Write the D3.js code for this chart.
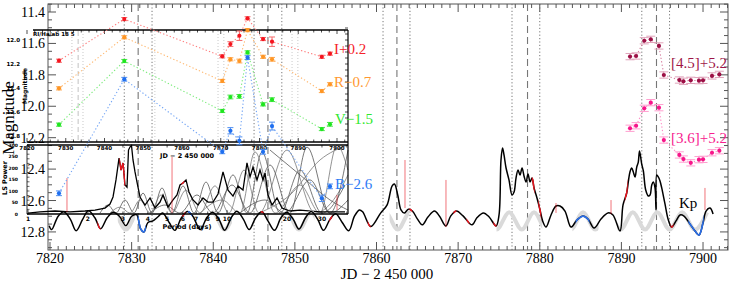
<!DOCTYPE html>
<html lang="en">
<head>
<meta charset="UTF-8">
<title>Kp light curve with optical and IR photometry</title>
<script src="https://cdn.jsdelivr.net/npm/d3@7"></script>
<style>
  body { margin: 0; background: #fff; }
  svg text { font-family: "Liberation Serif", "DejaVu Serif", serif; }
  svg text.tiny { font-family: "DejaVu Sans", sans-serif; font-weight: bold; }
</style>
</head>
<body>
<div id="chart"></div>
<script>
// ---------- data ----------
const xTicks = [7820, 7830, 7840, 7850, 7860, 7870, 7880, 7890, 7900];
const yTicks = [11.4, 11.6, 11.8, 12.0, 12.2, 12.4, 12.6, 12.8];

// optical photometry (offsets already applied)
const optJD = [7821.1, 7829.1, 7841.1, 7842.1, 7843.2, 7844.2, 7846.1, 7847.2, 7853.3, 7854.3];
const magI = [11.710, 11.445, 11.682, 11.604, 11.551, 11.440, 11.572, 11.589, 11.685, 11.665];
const errI = [0.010, 0.010, 0.010, 0.015, 0.030, 0.010, 0.010, 0.030, 0.010, 0.010];
const magR = [11.886, 11.561, 11.839, 11.701, 11.712, 11.515, 11.685, 11.701, 11.903, 11.860];
const errR = [0.010, 0.010, 0.010, 0.010, 0.012, 0.010, 0.010, 0.012, 0.010, 0.010];
const magV = [12.117, 11.712, 12.030, 11.941, 11.937, 11.657, 11.988, 11.958, 12.145, 12.115];
const errV = [0.010, 0.010, 0.010, 0.012, 0.012, 0.010, 0.010, 0.012, 0.010, 0.012];
const magB = [12.554, 11.828, 12.290, 12.156, 12.220, 11.690, 12.290, 12.126, 12.586, 12.510];
const errB = [0.015, 0.012, 0.012, 0.020, 0.025, 0.012, 0.015, 0.025, 0.020, 0.015];

// Spitzer photometry
const irJD  = [7891.06, 7891.8, 7892.8, 7893.6, 7894.6, 7895.2, 7897.1, 7897.6, 7898.5, 7899.5, 7900.0, 7901.1, 7902.0];
const mag45 = [11.684, 11.680, 11.583, 11.574, 11.616, 11.801, 11.833, 11.841, 11.835, 11.837, 11.835, 11.807, 11.797];
const mag36 = [12.140, 12.124, 12.013, 11.977, 12.009, 12.215, 12.310, 12.336, 12.360, 12.340, 12.338, 12.296, 12.283];
const errIR = [0.020, 0.020, 0.020, 0.020, 0.020, 0.020, 0.020, 0.020, 0.020, 0.020, 0.020, 0.020, 0.020];

// Kepler K2 light curve (JD, mag)
const kpCurve = [
  [7819.9,12.760],[7820.2,12.785],[7821.0,12.700],[7821.7,12.672],[7822.5,12.720],[7823.2,12.792],
  [7824.0,12.720],[7824.7,12.665],[7825.5,12.710],[7826.2,12.780],[7827.0,12.710],[7827.75,12.675],
  [7828.5,12.700],[7829.3,12.760],[7830.0,12.700],[7830.6,12.690],[7831.1,12.780],[7831.5,12.800],
  [7832.0,12.740],[7832.6,12.730],[7833.3,12.700],[7833.8,12.680],[7834.6,12.740],[7835.3,12.790],
  [7836.1,12.710],[7836.85,12.670],[7837.5,12.700],[7838.4,12.785],[7839.2,12.710],[7839.9,12.675],
  [7840.7,12.720],[7841.4,12.790],[7842.2,12.710],[7842.9,12.668],[7843.7,12.720],[7844.4,12.785],
  [7845.2,12.710],[7845.95,12.672],[7846.7,12.730],[7847.5,12.790],[7848.3,12.710],[7849.0,12.675],
  [7849.8,12.720],[7850.5,12.782],[7851.3,12.710],[7852.0,12.670],[7852.8,12.720],[7853.5,12.790],
  [7854.3,12.720],[7855.0,12.685],[7855.8,12.740],[7856.6,12.793],[7857.3,12.700],[7857.9,12.660],
  [7858.3,12.672],[7859.3,12.766],[7860.5,12.680],[7861.3,12.628],[7861.9,12.508],[7862.2,12.495],
  [7862.6,12.565],[7863.0,12.660],[7863.4,12.680],[7863.9,12.655],[7864.4,12.667],[7865.0,12.717],
  [7865.6,12.755],[7866.3,12.705],[7867.1,12.667],[7867.7,12.698],[7868.5,12.762],[7869.1,12.698],
  [7869.8,12.667],[7870.6,12.698],[7871.7,12.755],[7872.3,12.710],[7873.1,12.679],[7873.8,12.705],
  [7874.65,12.762],[7875.01,12.692],[7875.25,12.342],[7875.44,12.266],[7875.62,12.310],[7875.87,12.393],
  [7876.23,12.469],[7876.60,12.565],[7876.85,12.546],[7877.09,12.457],[7877.34,12.406],[7877.58,12.438],
  [7877.83,12.393],[7878.07,12.444],[7878.32,12.482],[7878.56,12.431],[7878.81,12.482],[7879.05,12.457],
  [7879.30,12.520],[7879.66,12.584],[7880.03,12.660],[7880.40,12.737],[7880.77,12.769],[7881.38,12.692],
  [7881.99,12.635],[7882.48,12.635],[7883.09,12.667],[7883.83,12.769],[7884.56,12.724],[7885.30,12.699],
  [7885.91,12.718],[7886.65,12.775],[7887.50,12.718],[7888.36,12.679],[7888.97,12.692],[7889.83,12.794],
  [7890.20,12.628],[7890.65,12.552],[7890.85,12.480],[7891.05,12.418],[7891.26,12.393],[7891.46,12.418],
  [7891.67,12.450],[7891.88,12.387],[7892.07,12.355],[7892.22,12.285],[7892.49,12.368],[7892.69,12.412],
  [7892.98,12.533],[7893.30,12.571],[7893.51,12.565],[7893.72,12.501],[7893.91,12.482],[7894.12,12.520],
  [7894.24,12.660],[7894.33,12.438],[7894.52,12.450],[7894.73,12.476],[7894.94,12.520],[7895.34,12.622],
  [7895.75,12.724],[7896.16,12.769],[7896.69,12.730],[7897.18,12.692],[7897.67,12.699],[7898.41,12.750],
  [7899.02,12.794],[7899.51,12.820],[7900.00,12.743],[7900.37,12.667],[7900.86,12.648],[7901.23,12.686]
];
const kpBlueRanges = [[7830.75, 7831.75], [7836.9, 7837.4], [7884.4, 7886.1], [7898.2, 7900.1]];
const kpRedBits = [7826.0, 7836.4, 7846.0, 7854.4, 7859.1, 7864.2, 7869.6, 7871.2, 7874.5, 7879.2, 7880.0, 7890.6, 7896.2];
// flagged points: [JD, top mag, bottom mag]
const kpSpikes = [[7822.08,12.457,12.673],[7834.95,12.323,12.679],[7855.16,12.565,12.660],[7863.49,12.342,12.648],
  [7868.51,12.469,12.769],[7881.99,12.616,12.679],[7888.73,12.597,12.686],[7900.24,12.520,12.660]];

// sinusoidal model: times of minima and maxima of brightness
const modelFaintJD  = [7820.2,7823.2,7826.2,7829.3,7832.3,7835.3,7838.4,7841.4,7844.4,7847.5,7850.5,7853.5,7856.5,
  7859.6,7862.6,7865.6,7868.7,7871.7,7874.7,7877.8,7880.8,7883.8,7886.8,7889.9,7892.9,7895.9,7899.0];
const modelBrightJD = [7821.7,7824.7,7827.75,7830.8,7833.8,7836.85,7839.9,7842.9,7845.95,7849.0,7852.0,7855.0,
  7858.05,7861.1,7864.1,7867.15,7870.2,7873.2,7876.25,7879.3,7882.3,7885.3,7888.35,7891.4,7894.4,7897.45,7900.5];
const modelFaintMag = 12.785, modelBrightMag = 12.675;
const modelShown = [[7828.3,7830.4],[7839.8,7842.3],[7849.2,7852.4],[7861.6,7864.0],[7874.7,7880.3],[7884.0,7887.2],[7889.5,7901.4]];

// reference epochs: dashed and dotted lines
const dashedJD = [7830.8, 7846.7, 7862.5, 7878.5, 7894.3];
const dottedJD = [7829.1, 7832.5, 7845.0, 7848.4, 7860.8, 7864.1, 7876.6, 7880.0, 7892.5, 7895.9];

// inset: light curve panel
const insetXTicks = [7820, 7830, 7840, 7850, 7860, 7870, 7880, 7890, 7900];
const insetYTicks = [12.0, 12.2, 12.4, 12.6, 12.8];
const insetDottedJD = [7831.6, 7834.45, 7853.0, 7869.3, 7870.8, 7888.4, 7889.9];
const insetDashedJD = [7833.2];

// inset: Lomb-Scargle periodogram (period in days, power)
const periodTicks = [1, 2, 3, 4, 5, 6, 7, 8, 9, 10, 20, 30];
const powerTicks = [0, 20, 40, 60, 80, 100, 120, 140, 160, 180, 200, 220, 240, 260, 280, 300];
const powerLabels = [0, 50, 100, 150, 200, 250, 300];
const lsMain = [[1.0,4],[1.149,9],[1.367,13],[1.626,9],[1.934,13],[2.171,17],[2.437,26],[2.583,43],[2.674,74],
  [2.768,148],[2.867,243],[2.934,191],[3.002,222],[3.072,126],[3.144,117],[3.199,278],[3.254,291],[3.312,298],
  [3.370,235],[3.449,183],[3.529,139],[3.654,74],[3.872,39],[4.104,70],[4.347,26],[4.606,52],[4.769,83],[5.052,30],
  [5.354,61],[5.607,83],[5.805,126],[6.010,135],[6.223,148],[6.442,96],[6.748,61],[7.150,39],[7.576,70],[8.025,52],
  [8.503,52],[9.012,87],[9.548,183],[10.12,104],[10.72,78],[11.36,122],[12.03,104],[12.60,222],[13.05,161],
  [13.51,204],[14.15,148],[14.65,191],[15.17,148],[15.53,178],[16.07,83],[16.83,39],[17.84,70],[18.90,26],
  [20.73,13],[23.27,17],[29.34,9],[39.17,9]];
const lsRedPeriods = [[2.88, 3.08], [5.9, 6.1]];
const lsOthers = [
  [[2.300,4],[2.523,39],[2.768,4],[3.072,61],[3.409,4],[3.784,91],[4.200,4],[4.714,113],[5.291,4],[6.010,122],
   [6.827,4],[7.844,139],[9.012,4],[10.72,170],[12.60,4],[14.99,270],[18.47,4],[23.27,191],[30.02,4],[39.17,126]],
  [[2.583,4],[2.900,30],[3.254,4],[3.654,61],[4.104,4],[4.660,83],[5.291,4],[6.223,104],[7.317,4],[8.702,122],
   [10.23,4],[12.17,191],[14.48,4],[20.02,278],[27.69,4],[36.97,104],[40.55,170]],
  [[4.104,4],[4.881,39],[5.805,4],[7.068,83],[8.503,4],[10.60,126],[13.05,4],[16.45,213],[20.73,4],[25.23,291],
   [32.93,4],[40.55,61]],
  [[7.317,4],[9.438,61],[11.62,4],[13.83,270],[17.43,4],[23.27,126],[29.34,4],[35.71,298],[40.55,191]],
  [[11.62,4],[15.53,61],[19.56,4],[26.13,148],[32.93,4],[40.55,278]],
  [[14.48,4],[20.73,83],[29.34,235],[40.55,300]],
  [[16.45,278],[23.27,170],[32.93,61],[40.55,17]]
];

// ---------- drawing ----------
const W = 734, H = 284;
const svg = d3.select("#chart").append("svg").attr("width", W).attr("height", H);
const defs = svg.append("defs");

const x = d3.scaleLinear().domain([7819.755, 7903.06]).range([48, 728]);
const y = d3.scaleLinear().domain([11.349, 12.915]).range([4, 250]);
const xi = d3.scaleLinear().domain([7820, 7900]).range([27, 337]);
const yi = d3.scaleLinear().domain([12.0, 12.8]).range([40, 136]);
const xp = d3.scaleLog().domain([1, 40.55]).range([28, 348]);
const yp = d3.scaleLinear().domain([0, 300]).range([214, 145]);

function clipX(id, ranges, scale) {
  defs.append("clipPath").attr("id", id).selectAll("rect").data(ranges).join("rect")
    .attr("x", d => scale(d[0])).attr("width", d => scale(d[1]) - scale(d[0]))
    .attr("y", 0).attr("height", H);
}

// main frame + ticks
const frame = svg.append("g").attr("stroke", "#555").attr("stroke-width", 1);
frame.append("rect").attr("x", 48).attr("y", 4).attr("width", 680).attr("height", 246).attr("fill", "none");
const xMinor = d3.range(7820, 7904, 1);
const yMinor = d3.range(11.35, 12.92, 0.05);
frame.selectAll(".xt").data(xMinor).join("line")
  .attr("x1", d => x(d)).attr("x2", d => x(d))
  .attr("y1", 250).attr("y2", d => 250 - (xTicks.includes(d) ? 8 : 4));
frame.selectAll(".xtt").data(xMinor).join("line")
  .attr("x1", d => x(d)).attr("x2", d => x(d))
  .attr("y1", 4).attr("y2", d => 4 + (xTicks.includes(d) ? 8 : 4));
const isMajorY = d => yTicks.some(t => Math.abs(t - d) < 1e-6);
frame.selectAll(".yl").data(yMinor).join("line")
  .attr("y1", d => y(d)).attr("y2", d => y(d))
  .attr("x1", 48).attr("x2", d => 48 + (isMajorY(d) ? 8 : 4));
frame.selectAll(".yr").data(yMinor).join("line")
  .attr("y1", d => y(d)).attr("y2", d => y(d))
  .attr("x1", 728).attr("x2", d => 728 - (isMajorY(d) ? 8 : 4));

svg.selectAll(".xlab").data(xTicks).join("text")
  .attr("x", d => x(d)).attr("y", 263).attr("text-anchor", "middle")
  .attr("font-size", 14).text(d => d);
svg.selectAll(".ylab").data(yTicks).join("text")
  .attr("x", 45).attr("y", d => y(d) + 5).attr("text-anchor", "end")
  .attr("font-size", 14).text(d => d.toFixed(1));
svg.append("text").attr("x", 387).attr("y", 279).attr("text-anchor", "middle")
  .attr("font-size", 15).text("JD \u2212 2 450 000");
svg.append("text").attr("transform", "translate(14,118) rotate(-90)").attr("text-anchor", "middle")
  .attr("font-size", 17).text("Magnitude");

// epoch lines
svg.selectAll(".dot").data(dottedJD).join("line")
  .attr("x1", d => x(d)).attr("x2", d => x(d)).attr("y1", 4).attr("y2", 250)
  .attr("stroke", "#666").attr("stroke-width", 0.9).attr("stroke-dasharray", "1.2,2.2");
svg.selectAll(".dash").data(dashedJD).join("line")
  .attr("x1", d => x(d)).attr("x2", d => x(d)).attr("y1", 4).attr("y2", 250)
  .attr("stroke", "#777").attr("stroke-width", 1.1).attr("stroke-dasharray", "7,4");

// inset light-curve guide lines
svg.selectAll(".idot").data(insetDottedJD).join("line")
  .attr("x1", d => xi(d)).attr("x2", d => xi(d)).attr("y1", 31).attr("y2", 142)
  .attr("stroke", "#bbb").attr("stroke-width", 0.8).attr("stroke-dasharray", "1,2");
svg.selectAll(".idash").data(insetDashedJD).join("line")
  .attr("x1", d => xi(d)).attr("x2", d => xi(d)).attr("y1", 31).attr("y2", 142)
  .attr("stroke", "#bbb").attr("stroke-width", 0.9).attr("stroke-dasharray", "5,3");

// periodogram curves
const lsLine = d3.line().x(d => xp(d[0])).y(d => yp(d[1]));
svg.append("g").selectAll("path").data(lsOthers).join("path")
  .attr("d", d => lsLine.curve(d3.curveMonotoneX)(d))
  .attr("fill", "none").attr("stroke", (d, i) => i % 2 ? "#777" : "#555").attr("stroke-width", 0.8);
const lsPath = d3.line().x(d => xp(d[0])).y(d => yp(d[1])).curve(d3.curveLinear);
svg.append("path").datum(lsMain).attr("d", lsPath)
  .attr("fill", "none").attr("stroke", "#000").attr("stroke-width", 1.3);
clipX("lsred", lsRedPeriods, xp);
svg.append("path").datum(lsMain).attr("d", lsPath).attr("clip-path", "url(#lsred)")
  .attr("fill", "none").attr("stroke", "#e8141e").attr("stroke-width", 1.4);

// Kp light curve
const modelPts = modelFaintJD.map(t => [t, modelFaintMag])
  .concat(modelBrightJD.map(t => [t, modelBrightMag]))
  .sort((a, b) => a[0] - b[0]);
clipX("modelclip", modelShown, x);
svg.append("path").datum(modelPts)
  .attr("d", d3.line().x(d => x(d[0])).y(d => y(d[1])).curve(d3.curveMonotoneX))
  .attr("clip-path", "url(#modelclip)")
  .attr("fill", "none").attr("stroke", "#dadada").attr("stroke-width", 4);

const kpLine = d3.line().x(d => x(d[0])).y(d => y(d[1])).curve(d3.curveCatmullRom.alpha(0.5));
svg.append("path").datum(kpCurve).attr("d", kpLine)
  .attr("fill", "none").attr("stroke", "#000").attr("stroke-width", 1.5);
clipX("kpblue", kpBlueRanges, x);
svg.append("path").datum(kpCurve).attr("d", kpLine).attr("clip-path", "url(#kpblue)")
  .attr("fill", "none").attr("stroke", "#2a6ee8").attr("stroke-width", 1.7);
clipX("kpred", kpRedBits.map(t => [t - 0.18, t + 0.18]), x);
svg.append("path").datum(kpCurve).attr("d", kpLine).attr("clip-path", "url(#kpred)")
  .attr("fill", "none").attr("stroke", "#e8141e").attr("stroke-width", 1.6);
svg.selectAll(".spike").data(kpSpikes).join("line")
  .attr("x1", d => x(d[0])).attr("x2", d => x(d[0]))
  .attr("y1", d => y(d[1])).attr("y2", d => y(d[2]))
  .attr("stroke", "#e8141e").attr("stroke-width", 0.7).attr("stroke-opacity", 0.85);

// inset frames and axes
const ins = svg.append("g").attr("stroke", "#000");
ins.append("line").attr("x1", 33).attr("x2", 348).attr("y1", 30).attr("y2", 30).attr("stroke-width", 1.3);
ins.append("line").attr("x1", 348).attr("x2", 348).attr("y1", 30).attr("y2", 214).attr("stroke-width", 1.2);
ins.append("line").attr("x1", 27).attr("x2", 348).attr("y1", 142).attr("y2", 142).attr("stroke-width", 1.3);
ins.append("line").attr("x1", 27).attr("x2", 348).attr("y1", 145).attr("y2", 145).attr("stroke-width", 1.3);
ins.append("line").attr("x1", 27).attr("x2", 348).attr("y1", 214).attr("y2", 214).attr("stroke-width", 1.6);
ins.append("line").attr("x1", 27).attr("x2", 27).attr("y1", 145).attr("y2", 214).attr("stroke-width", 0.8);
const insMinor = d3.range(7820, 7903, 2);
ins.selectAll(".itt").data(insMinor).join("line").attr("stroke-width", 0.7)
  .attr("x1", d => xi(d)).attr("x2", d => xi(d)).attr("y1", 30).attr("y2", d => 30 + (d % 10 === 0 ? 4 : 2.5));
ins.selectAll(".itb").data(insMinor).join("line").attr("stroke-width", 0.7)
  .attr("x1", d => xi(d)).attr("x2", d => xi(d)).attr("y1", 142).attr("y2", d => 142 - (d % 10 === 0 ? 4 : 2.5));
ins.selectAll(".iyr").data(d3.range(11.9, 12.85, 0.05)).join("line").attr("stroke-width", 0.7)
  .attr("y1", d => yi(d)).attr("y2", d => yi(d)).attr("x1", 348).attr("x2", 345);
const pMinor = [1, 2, 3, 4, 5, 6, 7, 8, 9, 10, 20, 30, 40];
ins.selectAll(".ptb").data(pMinor).join("line").attr("stroke-width", 0.7)
  .attr("x1", d => xp(d)).attr("x2", d => xp(d)).attr("y1", 214).attr("y2", d => 214 - (d === 1 || d === 10 ? 4 : 2.5));
ins.selectAll(".ptt").data(pMinor).join("line").attr("stroke-width", 0.7)
  .attr("x1", d => xp(d)).attr("x2", d => xp(d)).attr("y1", 145).attr("y2", d => 145 + (d === 1 || d === 10 ? 4 : 2.5));
ins.selectAll(".pyl").data(powerTicks).join("line").attr("stroke-width", 0.6)
  .attr("y1", d => yp(d)).attr("y2", d => yp(d)).attr("x1", 27).attr("x2", 29.5);

svg.selectAll(".ixl").data(insetXTicks).join("text").attr("class", "tiny")
  .attr("x", d => xi(d)).attr("y", 150).attr("text-anchor", "middle").attr("font-size", 5.5).text(d => d);
svg.selectAll(".iyl").data(insetYTicks).join("text").attr("class", "tiny")
  .attr("x", 20).attr("y", d => yi(d) + 2).attr("text-anchor", "end").attr("font-size", 5.5).text(d => d.toFixed(1));
svg.selectAll(".pxl").data(periodTicks).join("text").attr("class", "tiny")
  .attr("x", d => xp(d)).attr("y", 221).attr("text-anchor", "middle").attr("font-size", 6).text(d => d);
svg.selectAll(".pyl2").data(powerLabels).join("text").attr("class", "tiny")
  .attr("x", 18).attr("y", d => yp(d) + 1.8).attr("text-anchor", "end").attr("font-size", 4.5).text(d => d);
svg.append("text").attr("class", "tiny").attr("x", 187).attr("y", 229).attr("text-anchor", "middle")
  .attr("font-size", 6.5).text("Period (days)");
svg.append("text").attr("class", "tiny").attr("transform", "translate(7,178) rotate(-90)")
  .attr("text-anchor", "middle").attr("font-size", 6.5).text("LS Power");
svg.append("text").attr("class", "tiny").attr("x", 187).attr("y", 158).attr("text-anchor", "middle")
  .attr("font-size", 6.5).text("JD \u2212 2 450 000");
svg.append("text").attr("class", "tiny").attr("transform", "translate(27,86) rotate(-90)")
  .attr("text-anchor", "middle").attr("font-size", 6).text("Magnitude");
svg.append("text").attr("class", "tiny").attr("x", 33).attr("y", 36).attr("font-size", 5.5).text("RI/Ha/ab 18 5");

// photometry series
function drawSeries(jd, mag, err, c) {
  const pts = jd.map((t, i) => ({ t, m: mag[i], e: err[i] }));
  const g = svg.append("g");
  g.append("path").datum(pts)
    .attr("d", d3.line().x(d => x(d.t)).y(d => y(d.m)))
    .attr("fill", "none").attr("stroke", c.line).attr("stroke-width", 1.1).attr("stroke-dasharray", "1.3,2.2");
  const eb = g.selectAll("g.eb").data(pts).join("g").attr("stroke", c.err).attr("stroke-width", 1);
  eb.append("line").attr("x1", d => x(d.t)).attr("x2", d => x(d.t))
    .attr("y1", d => y(d.m - d.e)).attr("y2", d => y(d.m + d.e));
  eb.append("line").attr("x1", d => x(d.t) - c.cap).attr("x2", d => x(d.t) + c.cap)
    .attr("y1", d => y(d.m - d.e)).attr("y2", d => y(d.m - d.e));
  eb.append("line").attr("x1", d => x(d.t) - c.cap).attr("x2", d => x(d.t) + c.cap)
    .attr("y1", d => y(d.m + d.e)).attr("y2", d => y(d.m + d.e));
  g.selectAll("circle").data(pts).join("circle")
    .attr("cx", d => x(d.t)).attr("cy", d => y(d.m)).attr("r", 2.1).attr("fill", c.pt);
}
drawSeries(optJD, magI, errI, { pt: "#f5141e", line: "#ff7d7d", err: "#f56a6a", cap: 3 });
drawSeries(optJD, magR, errR, { pt: "#ff9624", line: "#ffb870", err: "#ffa64d", cap: 3 });
drawSeries(optJD, magV, errV, { pt: "#1ee61e", line: "#7aeb7a", err: "#4ee64e", cap: 3 });
drawSeries(optJD, magB, errB, { pt: "#1f6ff0", line: "#73a5f5", err: "#4d8df0", cap: 3 });
drawSeries(irJD, mag45, errIR, { pt: "#9c0f45", line: "#d77fa0", err: "#e0a3ba", cap: 4.5 });
drawSeries(irJD, mag36, errIR, { pt: "#f7158a", line: "#ff8cc6", err: "#ff9fcf", cap: 4.5 });

// series labels
const labels = [
  { text: "I+0.2", px: 334, py: 54, fill: "#f5222a" },
  { text: "R\u22120.7", px: 334, py: 87, fill: "#ff9830" },
  { text: "V\u22121.5", px: 335, py: 124, fill: "#2ee82e" },
  { text: "B\u22122.6", px: 335, py: 189, fill: "#2f7cf5" },
  { text: "[4.5]+5.2", px: 671, py: 68, fill: "#9e1548" },
  { text: "[3.6]+5.2", px: 671, py: 143, fill: "#f7208e" },
  { text: "Kp", px: 679, py: 208, fill: "#000" }
];
svg.selectAll(".lab").data(labels).join("text")
  .attr("x", d => d.px).attr("y", d => d.py).attr("fill", d => d.fill)
  .attr("font-size", 15).text(d => d.text);
</script>
</body>
</html>
